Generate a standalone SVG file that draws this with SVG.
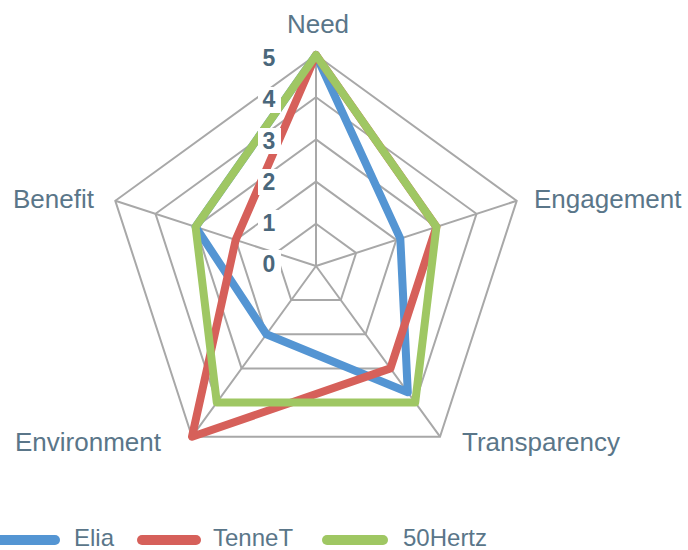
<svg xmlns="http://www.w3.org/2000/svg" width="688" height="550" viewBox="0 0 688 550">
<style>
.grid{fill:none;stroke:#a8a8a8;stroke-width:2}
.ser{fill:none;stroke-width:8;stroke-linejoin:round;stroke-linecap:round}
.lab{font-family:"Liberation Sans",Arial,sans-serif;font-size:26px;fill:#5a7689}
.leg{font-family:"Liberation Sans",Arial,sans-serif;font-size:24px;fill:#5a7689}
.tick{font-family:"Liberation Sans",Arial,sans-serif;font-size:23px;font-weight:bold;fill:#4a677b;text-anchor:middle}
.tbg{fill:#ffffff}
</style>
<rect width="688" height="550" fill="#ffffff"/>
<g id="grid">
<polygon class="grid" points="316,223.8 356.1,253 340.8,300.1 291.2,300.1 275.9,253"/>
<polygon class="grid" points="316,181.6 396.3,239.9 365.6,334.3 266.4,334.3 235.7,239.9"/>
<polygon class="grid" points="316,139.4 436.4,226.9 390.4,368.4 241.6,368.4 195.6,226.9"/>
<polygon class="grid" points="316,97.2 476.5,213.8 415.2,402.6 216.8,402.6 155.5,213.8"/>
<polygon class="grid" points="316,55 516.7,200.8 440,436.7 192,436.7 115.3,200.8"/>
<path class="grid" d="M316,266 L316,55 M316,266 L516.7,200.8 M316,266 L440,436.7 M316,266 L192,436.7 M316,266 L115.3,200.8"/>
</g>
<g id="connectors">
<polygon id="elia" class="ser" stroke="#5495d3" points="316,55 400.3,238.6 407.8,392.3 266.4,334.3 195.6,226.9"/>
<polygon id="tennet" class="ser" stroke="#d6605a" points="316,55 436.4,226.9 390.4,368.4 192,436.7 235.7,239.9"/>
<polygon id="hertz" class="ser" stroke="#9fc763" points="316,55 436.4,226.9 415.2,402.6 216.8,402.6 195.6,226.9"/>
</g>
<g id="ticks">
<rect class="tbg" x="258" y="45" width="23" height="26"/><text class="tick" x="269" y="66">5</text>
<rect class="tbg" x="258" y="87" width="23" height="26"/><text class="tick" x="269" y="107">4</text>
<rect class="tbg" x="258" y="128" width="23" height="26"/><text class="tick" x="269" y="149">3</text>
<rect class="tbg" x="258" y="169" width="23" height="26"/><text class="tick" x="269" y="190">2</text>
<rect class="tbg" x="258" y="210" width="23" height="26"/><text class="tick" x="269" y="231">1</text>
<rect class="tbg" x="258" y="250" width="23" height="26"/><text class="tick" x="269" y="272">0</text>
</g>
<g id="label-need"><text class="lab" x="318" y="33" text-anchor="middle">Need</text></g>
<g id="label-engagement"><text class="lab" x="534" y="208">Engagement</text></g>
<g id="label-transparency"><text class="lab" x="462" y="451">Transparency</text></g>
<g id="label-environment"><text class="lab" x="15" y="451">Environment</text></g>
<g id="label-benefit"><text class="lab" x="13" y="208">Benefit</text></g>
<g id="legend">
<line x1="-5" y1="540" x2="55" y2="540" stroke="#5495d3" stroke-width="10" stroke-linecap="round"/>
<text class="leg" x="74" y="546">Elia</text>
<line x1="142" y1="540" x2="196" y2="540" stroke="#d6605a" stroke-width="10" stroke-linecap="round"/>
<text class="leg" x="213" y="546">TenneT</text>
<line x1="327" y1="540" x2="383" y2="540" stroke="#9fc763" stroke-width="10" stroke-linecap="round"/>
<text class="leg" x="403" y="546">50Hertz</text>
</g>
</svg>
